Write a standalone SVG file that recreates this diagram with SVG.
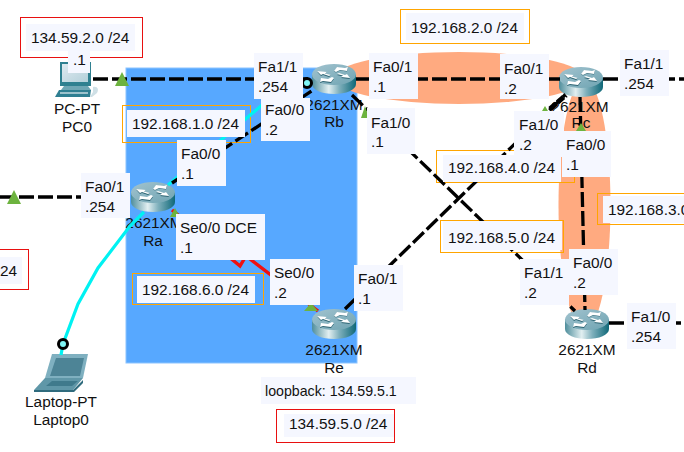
<svg xmlns="http://www.w3.org/2000/svg" width="684" height="452" viewBox="0 0 684 452">
<style>
text{font-family:"Liberation Sans",Arial,sans-serif;font-size:15.4px;fill:#111}
.c{text-anchor:middle}
.bg{fill:#f5f7ff}
.o{fill:none;stroke:#ffa500;stroke-width:1}
.r{fill:none;stroke:#e81010;stroke-width:1}
.d{fill:none;stroke:#000;stroke-width:3.3;stroke-dasharray:15 4}
.cy{fill:none;stroke:#00f2f2;stroke-width:3.2}
.tri{fill:#6db33f}
.ring{fill:#7ff5f5;stroke:#000;stroke-width:3}
.lobe{fill:#ffaa80}
</style>
<defs>
<linearGradient id="side" x1="0" x2="1" y1="0" y2="0"><stop offset="0" stop-color="#4f8e9c"/><stop offset=".38" stop-color="#e2eff1"/><stop offset=".62" stop-color="#7fb0bc"/><stop offset="1" stop-color="#0f6878"/></linearGradient>
<linearGradient id="top" x1="0" x2="1" y1="0" y2="1"><stop offset="0" stop-color="#a2c3cf"/><stop offset="1" stop-color="#6fa4b2"/></linearGradient>
<linearGradient id="scr" x1="0" x2="1" y1="0" y2="1"><stop offset="0" stop-color="#dfeaf0"/><stop offset="1" stop-color="#b4d0da"/></linearGradient>
<symbol id="router" width="44" height="30" viewBox="0 0 44 30" overflow="visible">
<path d="M0 10V20C0 26 10 30 22 30S44 26 44 20V10Z" fill="url(#side)"/>
<ellipse cx="22" cy="10.500" rx="22" ry="10.500" fill="url(#top)"/>
<path d="M5 7.500L15 8.500L13 10L19 11.500L17 13L11 11L9 12ZM38 15L29 14L31 12.500L25 11L27 9.500L33 11.500L35 10.500ZM25 3.500L33 4.500L36 3.500L35 7.500L28 6.500L24 8.500L22 7.500ZM19 19L11 18L8 19L9 15L16 16L20 14L22 15Z" fill="#2d6473"/>
<path d="M5 7L15 8L13 9.500L19 11L17 12L11 10L9 11ZM38 14L29 13L31 11.500L25 10L27 9L33 11L35 10ZM25 3L33 4L36 3L35 7L28 6L24 8L22 7ZM19 18L11 17L8 18L9 14L16 15L20 13L22 14Z" fill="#fff"/>
</symbol>
</defs>
<rect width="684" height="452" fill="#fff"/>
<rect x="126" y="68" width="231" height="295" fill="#57a8ff" stroke="#8cc4ff"/>
<ellipse class="lobe" cx="459" cy="78" rx="125" ry="26"/>
<ellipse class="lobe" cx="584.500" cy="205" rx="26" ry="125"/>
<g id="Text-notes">
<rect class="r" x="20.500" y="17.500" width="122" height="40"/>
<rect class="o" x="122.500" y="105.500" width="128" height="37"/>
<rect class="o" x="132.500" y="273.500" width="131" height="31"/>
<rect class="r" x="276.500" y="409.500" width="118" height="33"/>
<rect class="r" x="-2" y="249.500" width="30.500" height="40"/>
<rect class="o" x="400.500" y="9.500" width="129" height="34"/>
<rect class="o" x="436.500" y="150.500" width="138" height="32"/>
<rect class="o" x="597.500" y="193.500" width="100" height="31"/>
<rect class="o" x="440.500" y="220.500" width="123" height="32"/>
</g>
<g id="PC0">
<path d="M60 62H91V86H60Z" fill="#2f8090"/><path d="M62 64H88V82H62Z" fill="url(#scr)"/>
<path d="M64 86H88L91 90H61Z" fill="#6ea6b4"/><path d="M59 90H91L90 97H55Z" fill="#2f7f92"/><path d="M60 92H88V94H60Z" fill="#9cc2cc"/>
<path d="M93 87C98 86 99 90 97 93L92 97H90L93 92Z" fill="#cfe0e6"/>
<text class="c" x="77" y="114">PC-PT</text><text class="c" x="77" y="132">PC0</text>
</g>
<g id="Laptop0">
<path d="M52 354H88L83 378H45Z" fill="#7fb0c0"/><path d="M56 358H84L80 376H50Z" fill="#4d8496"/>
<path d="M45 378H83L73 390H34Z" fill="#5f97a8"/><path d="M34 390H73L83 380V383L74 392H34Z" fill="#2f6b7d"/>
<path d="M52 381H78L72 386H46Z" fill="#3f7a8c"/>
<text class="c" x="61" y="407">Laptop-PT</text><text class="c" x="61" y="425">Laptop0</text>
</g>
<g id="Ra"><use href="#router" x="131" y="182"/><text class="c" x="154" y="228">2621XM</text><text class="c" x="153" y="246">Ra</text></g>
<g id="Rb"><use href="#router" x="312" y="64"/><text class="c" x="334" y="110">2621XM</text><text class="c" x="334" y="127">Rb</text></g>
<g id="Rc"><use href="#router" x="559" y="67"/><text class="c" x="580" y="112">2621XM</text><text class="c" x="581" y="128">Rc</text></g>
<g id="Rd"><use href="#router" x="565" y="309"/><text class="c" x="587" y="355">2621XM</text><text class="c" x="587" y="373">Rd</text></g>
<g id="Re"><use href="#router" x="312" y="309"/><text class="c" x="334" y="355">2621XM</text><text class="c" x="334" y="373">Re</text></g>
<g id="connectors">
<path class="cy" d="M61 355L63 344L78 304L98 268L130 226L144 212M168 185L262 105L305 85"/>
<path class="d" d="M93 79H308"/>
<path class="d" d="M172 183L313 90"/>
<path class="d" d="M0 197H131"/>
<path d="M172 210L240 266L246 256L318 311" fill="none" stroke="#f01010" stroke-width="3.400"/>
<path class="d" d="M352 95L575 311"/>
<path class="d" d="M345 309L565 95"/>
<path d="M550 109L566 95" fill="none" stroke="#000" stroke-width="5" stroke-dasharray="8 2"/>
<path class="d" d="M356 79H560"/>
<path class="d" d="M603 79H684"/>
<path class="d" d="M580 97L585 310"/>
<path class="d" d="M609 323H684"/>
<circle class="ring" cx="63" cy="344" r="4.500"/>
<circle class="ring" cx="307" cy="83" r="4.500"/>
<path class="tri" d="M122 72L129 86H115Z"/><path class="tri" d="M14 190L21 204H7Z"/>
<path class="tri" d="M175 208L180 217H170Z"/><path class="tri" d="M311 303L318 311H304Z"/>
<path class="tri" d="M365 106L369 118H361Z"/><path class="tri" d="M545 106L548 111H542Z"/>
<path class="tri" d="M581 123L586 131H576Z"/>
</g>
<g id="labels">
<rect class="bg" x="26" y="24" width="109" height="27"/><text x="31" y="43">134.59.2.0 /24</text>
<rect class="bg" x="68" y="51" width="22" height="22"/><text x="73" y="65">.1</text>
<rect class="bg" x="254" y="53" width="49" height="46"/><text x="258" y="72">Fa1/1</text><text x="258" y="92">.254</text>
<rect class="bg" x="127" y="110" width="118" height="27"/><text x="132" y="129">192.168.1.0 /24</text>
<rect class="bg" x="261" y="98" width="49" height="43"/><text x="265" y="115">Fa0/0</text><text x="265" y="135">.2</text>
<rect class="bg" x="177" y="140" width="49" height="46"/><text x="181" y="159">Fa0/0</text><text x="181" y="179">.1</text>
<rect class="bg" x="81" y="173" width="49" height="45"/><text x="85" y="192">Fa0/1</text><text x="85" y="212">.254</text>
<rect class="bg" x="176" y="214" width="89" height="46"/><text x="180" y="233">Se0/0 DCE</text><text x="180" y="253">.1</text>
<rect class="bg" x="270" y="259" width="50" height="46"/><text x="274" y="278">Se0/0</text><text x="274" y="298">.2</text>
<rect class="bg" x="137" y="276" width="118" height="27"/><text x="142" y="295">192.168.6.0 /24</text>
<rect class="bg" x="261" y="377" width="155" height="27"/><text x="265" y="396" style="font-size:14.200px">loopback: 134.59.5.1</text>
<rect class="bg" x="284" y="414" width="110" height="23"/><text x="289" y="429">134.59.5.0 /24</text>
<rect class="bg" x="0" y="257" width="22" height="27"/><text x="0" y="276">24</text>
<rect class="bg" x="406" y="13" width="118" height="27"/><text x="411" y="33">192.168.2.0 /24</text>
<rect class="bg" x="369" y="53" width="49" height="46"/><text x="373" y="72">Fa0/1</text><text x="373" y="92">.1</text>
<rect class="bg" x="500" y="54" width="49" height="45"/><text x="504" y="74">Fa0/1</text><text x="504" y="94">.2</text>
<rect class="bg" x="620" y="50" width="49" height="46"/><text x="624" y="69">Fa1/1</text><text x="624" y="89">.254</text>
<rect class="bg" x="367" y="108" width="48" height="46"/><text x="371" y="128">Fa1/0</text><text x="371" y="147">.1</text>
<rect class="bg" x="514" y="111" width="50" height="46"/><text x="519" y="130">Fa1/0</text><text x="519" y="150">.2</text>
<rect class="bg" x="443" y="155" width="118" height="27"/><text x="448" y="173">192.168.4.0 /24</text>
<rect class="bg" x="562" y="131" width="49" height="46"/><text x="566" y="150">Fa0/0</text><text x="566" y="170">.1</text>
<rect class="bg" x="603" y="196" width="81" height="27"/><text x="608" y="215">192.168.3.0 /24</text>
<rect class="bg" x="443" y="221" width="119" height="29"/><text x="448" y="243">192.168.5.0 /24</text>
<rect class="bg" x="520" y="259" width="49" height="46"/><text x="524" y="278">Fa1/1</text><text x="524" y="298">.2</text>
<rect class="bg" x="569" y="249" width="49" height="46"/><text x="573" y="268">Fa0/0</text><text x="573" y="288">.2</text>
<rect class="bg" x="627" y="303" width="49" height="46"/><text x="631" y="322">Fa1/0</text><text x="631" y="342">.254</text>
<rect class="bg" x="354" y="265" width="49" height="46"/><text x="358" y="284">Fa0/1</text><text x="358" y="304">.1</text>
</g>
</svg>
